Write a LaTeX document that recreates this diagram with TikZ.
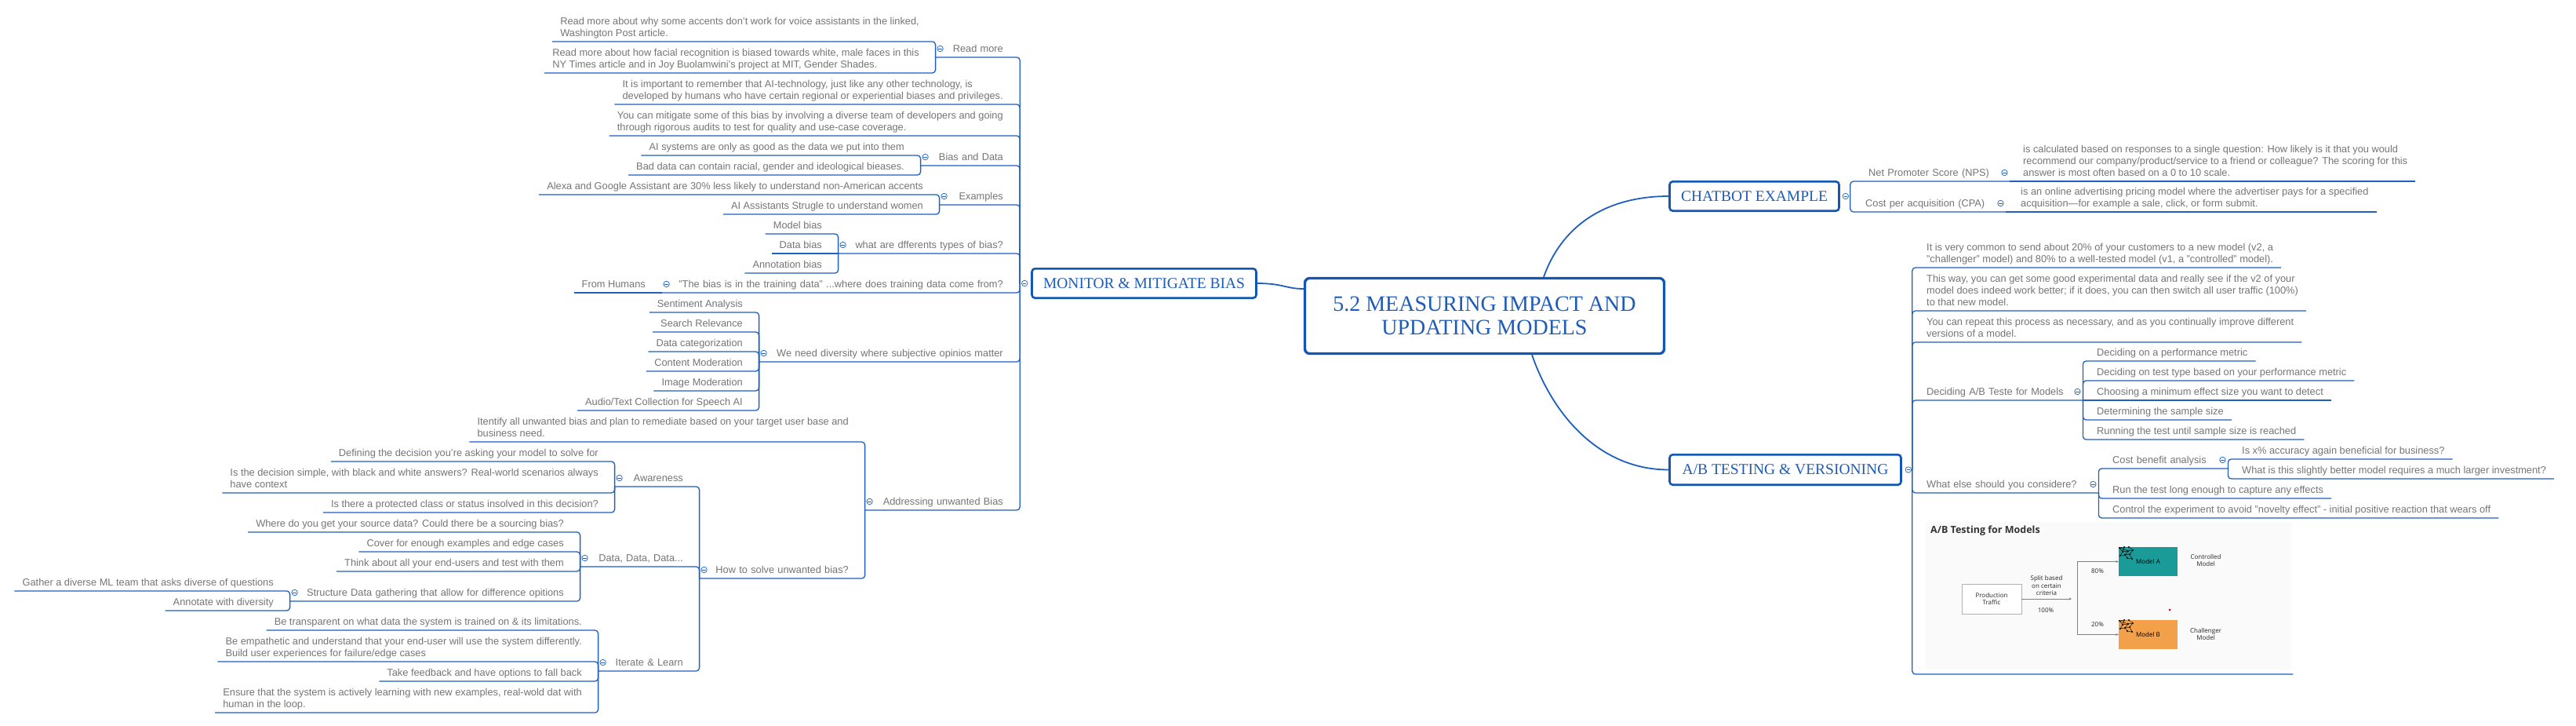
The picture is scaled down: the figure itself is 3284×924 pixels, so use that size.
\documentclass[tikz,border=0pt]{standalone}
\usepackage{fontspec}
\setmainfont{Liberation Sans}
\newfontfamily\titlefont{Liberation Serif}
\newfontfamily\imgfont{Open Sans}
\usetikzlibrary{arrows.meta}
\definecolor{linec}{HTML}{1E5FBF}
\definecolor{boxc}{HTML}{1356B4}
\definecolor{ntext}{HTML}{1F5CB8}
\definecolor{txtgray}{HTML}{757575}
\definecolor{modelA}{HTML}{1B9B97}
\definecolor{modelB}{HTML}{F3A04A}
\definecolor{imgbg}{HTML}{FAFAFA}
\tikzset{
  lt/.style={font=\fontsize{12.8}{15}\selectfont, text=txtgray, inner xsep=10pt, inner ysep=2pt, execute at end node=\strut},
  ll/.style={lt, anchor=south east},
  rl/.style={lt, anchor=south west},
  br/.style={draw=linec, line width=1.3pt, rounded corners=4pt},
  mi/.style={circle, draw=linec, line width=0.7pt, fill=white, minimum size=7.5pt, inner sep=0pt,
    path picture={\draw[linec, line width=0.7pt] ([xshift=-2.2pt]path picture bounding box.center) -- ([xshift=2.2pt]path picture bounding box.center);}},
  topic/.style={draw=boxc, line width=2.6pt, rounded corners=4pt, text=ntext, font=\titlefont\fontsize{19.5}{22}\selectfont, inner sep=0pt},
  mainc/.style={draw=linec, line width=1.8pt},
  imglbl/.style={font=\imgfont\fontsize{8}{9.5}\selectfont, text=black!85, align=center, inner sep=0pt},
  imgarrow/.style={draw=gray, line width=0.6pt, -{Stealth[length=3.5pt,width=3pt]}},
  imgline/.style={draw=gray, line width=0.6pt},
  pics/nnet/.style={code={
    \draw[black, line width=0.4pt] (1,2)--(7,1)--(13,1)--(18,5)--(12,6)--(5,7)--(1,2) (5,7)--(2,12)--(8,11)--(12,6) (8,11)--(14,10)--(18,5) (14,10)--(17,16)--(11,15)--(8,11) (1,2)--(12,6) (7,1)--(5,7);
    \foreach \p in {(1,2),(7,1),(13,1),(18,5),(12,6),(5,7),(2,12),(8,11),(14,10),(17,16),(11,15)} \fill[black] \p circle (1.1pt);
  }}
}
\begin{document}
\begin{tikzpicture}[x=1pt, y=-1pt]
\fill[white] (0,0) rectangle (3284,924);
\useasboundingbox (0,0) rectangle (3284,924);

% ---------- central and main topics ----------
\node[draw=boxc, line width=3.3pt, rounded corners=6pt, minimum width=458pt, minimum height=96pt, align=center, text=ntext, font=\titlefont\fontsize{28}{30}\selectfont, inner sep=0pt] (Ctr) at (1892.5,402.5) {5.2 MEASURING IMPACT AND\\UPDATING MODELS};
\node[topic, minimum width=286pt, minimum height=37.4pt] (M) at (1458.5,361) {MONITOR \& MITIGATE BIAS};
\node[topic, minimum width=216pt, minimum height=37.4pt] (C) at (2236.5,250) {CHATBOT EXAMPLE};
\node[topic, minimum width=295pt, minimum height=38.4pt] (AB) at (2276,598.5) {A/B TESTING \& VERSIONING};

\draw[mainc] (M.east) .. controls (1635,361) and (1640,368) .. ([yshift=34.5pt]Ctr.west);
\draw[mainc] ([xshift=75.5pt]Ctr.north) .. controls (1992,285) and (2050,250) .. (C.west);
\draw[mainc] ([xshift=60.5pt]Ctr.south) .. controls (1980,530) and (2040,598.5) .. (AB.west);

\coordinate (Mb) at ([xshift=-14pt]M.west);
\coordinate (Cb) at ([xshift=13pt]C.east);
\coordinate (ABb) at ([xshift=13pt]AB.east);

% ---------- MONITOR branch ----------
\node[ll, text width=76pt, align=right] (rm) at (1289,73) {Read more};
\node[ll, align=left] (rm1) at (1182,53) {Read more about why some accents don't work for voice assistants in the linked,\\Washington Post article.};
\node[ll, align=left] (rm2) at (1182,93) {Read more about how facial recognition is biased towards white, male faces in this\\NY Times article and in Joy Buolamwini's project at MIT, Gender Shades.};
\node[ll, align=left] (imp) at (1289,133) {It is important to remember that AI-technology, just like any other technology, is\\developed by humans who have certain regional or experiential biases and privileges.};
\node[ll, align=left] (mit) at (1289,173) {You can mitigate some of this bias by involving a diverse team of developers and going\\through rigorous audits to test for quality and use-case coverage.};
\node[ll, text width=95pt, align=right] (bd) at (1289,211) {Bias and Data};
\node[ll] (bd1) at (1163,198) {AI systems are only as good as the data we put into them};
\node[ll] (bd2) at (1163,223) {Bad data can contain racial, gender and ideological bieases.};
\node[ll, text width=71pt, align=right] (exm) at (1289,261) {Examples};
\node[ll] (ex1) at (1187,248) {Alexa and Google Assistant are 30\% less likely to understand non-American accents};
\node[ll] (ex2) at (1187,273) {AI Assistants Strugle to understand women};
\node[ll, text width=200pt, align=right] (typ) at (1289,323) {what are dfferents types of bias?};
\node[ll] (ty1) at (1058,298) {Model bias};
\node[ll] (ty2) at (1058,323) {Data bias};
\node[ll] (ty3) at (1058,348) {Annotation bias};
\node[ll, text width=425pt, align=right] (trn) at (1289,373) {"The bias is in the training data" ...where does training data come from?};
\node[ll] (fh) at (833,373) {From Humans};
\node[ll, text width=301pt, align=right] (div) at (1289,461) {We need diversity where subjective opinios matter};
\node[ll] (dv1) at (957,398) {Sentiment Analysis};
\node[ll] (dv2) at (957,423) {Search Relevance};
\node[ll] (dv3) at (957,448) {Data categorization};
\node[ll] (dv4) at (957,473) {Content Moderation};
\node[ll] (dv5) at (957,498) {Image Moderation};
\node[ll] (dv6) at (957,523) {Audio/Text Collection for Speech AI};
\node[ll, text width=166pt, align=right] (adr) at (1289,650) {Addressing unwanted Bias};
\node[ll, align=left] (idt) at (1092,563) {Itentify all unwanted bias and plan to remediate based on your target user base and\\business need.};
\node[ll, text width=180pt, align=right] (how) at (1092,737) {How to solve unwanted bias?};
\node[ll, text width=77pt, align=right] (awa) at (881,620) {Awareness};
\node[ll] (aw1) at (773,588) {Defining the decision you're asking your model to solve for};
\node[ll, align=left] (aw2) at (773,628) {Is the decision simple, with black and white answers? Real-world scenarios always\\have context};
\node[ll] (aw3) at (773,653) {Is there a protected class or status insolved in this decision?};
\node[ll, text width=121pt, align=right] (dat) at (881,722) {Data, Data, Data...};
\node[ll] (dd1) at (729,678) {Where do you get your source data? Could there be a sourcing bias?};
\node[ll] (dd2) at (729,703) {Cover for enough examples and edge cases};
\node[ll] (dd3) at (729,728) {Think about all your end-users and test with them};
\node[ll, text width=339pt, align=right] (str) at (729,766) {Structure Data gathering that allow for difference opitions};
\node[ll] (st1) at (359,753) {Gather a diverse ML team that asks diverse of questions};
\node[ll] (st2) at (359,778) {Annotate with diversity};
\node[ll, text width=98pt, align=right] (itl) at (881,855) {Iterate \& Learn};
\node[ll] (it1) at (752,803) {Be transparent on what data the system is trained on \& its limitations.};
\node[ll, align=left] (it2) at (752,843) {Be empathetic and understand that your end-user will use the system differently.\\Build user experiences for failure/edge cases};
\node[ll] (it3) at (752,868) {Take feedback and have options to fall back};
\node[ll, align=left] (it4) at (752,908) {Ensure that the system is actively learning with new examples, real-wold dat with\\human in the loop.};

\foreach \c in {rm,imp,mit,bd,exm,typ,trn,div,adr} \draw[br] (Mb) |- (\c.south west);
\foreach \c in {rm1,rm2} \draw[br] (rm.south west) |- (\c.south west);
\foreach \c in {bd1,bd2} \draw[br] (bd.south west) |- (\c.south west);
\foreach \c in {ex1,ex2} \draw[br] (exm.south west) |- (\c.south west);
\foreach \c in {ty1,ty3} \draw[br] (typ.south west) |- (\c.south west);
\draw[br] (typ.south west) -- (ty2.south west);
\draw[br] (trn.south west) -- (fh.south west);
\foreach \c in {dv1,dv2,dv3,dv4,dv5,dv6} \draw[br] (div.south west) |- (\c.south west);
\foreach \c in {idt,how} \draw[br] (adr.south west) |- (\c.south west);
\foreach \c in {awa,dat,itl} \draw[br] (how.south west) |- (\c.south west);
\foreach \c in {aw1,aw2,aw3} \draw[br] (awa.south west) |- (\c.south west);
\foreach \c in {dd1,dd2,dd3,str} \draw[br] (dat.south west) |- (\c.south west);
\foreach \c in {st1,st2} \draw[br] (str.south west) |- (\c.south west);
\foreach \c in {it1,it2,it3,it4} \draw[br] (itl.south west) |- (\c.south west);

\node[mi] (iM) at ([xshift=-8pt]M.west) {};
\foreach \c in {rm,bd,exm,typ,trn,div,adr,how,awa,dat,str,itl} \node[mi] (i\c) at ([shift={(6,-11)}]\c.south west) {};

% ---------- CHATBOT branch ----------
\node[rl, text width=170pt, align=left] (nps) at (2372,231) {Net Promoter Score (NPS)};
\node[rl, align=left] (npsd) at (2569,231) {is calculated based on responses to a single question: How likely is it that you would\\recommend our company/product/service to a friend or colleague? The scoring for this\\answer is most often based on a 0 to 10 scale.};
\node[rl, text width=169pt, align=left] (cpa) at (2368,270) {Cost per acquisition (CPA)};
\node[rl, align=left] (cpad) at (2566,270) {is an online advertising pricing model where the advertiser pays for a specified\\acquisition—for example a sale, click, or form submit.};
\foreach \c in {nps,cpa} \draw[br] (Cb) |- (\c.south east);
\draw[br] (nps.south east) -- (npsd.south east);
\draw[br] (cpa.south east) -- (cpad.south east);
\node[mi] (iC) at ([xshift=7pt]C.east) {};
\foreach \c in {nps,cpa} \node[mi] (i\c) at ([shift={(-7,-11)}]\c.south east) {};

% ---------- A/B branch ----------
\node[rl, align=left] (ab1) at (2446,341) {It is very common to send about 20\% of your customers to a new model (v2, a\\"challenger" model) and 80\% to a well-tested model (v1, a "controlled" model).};
\node[rl, align=left] (ab2) at (2446,396) {This way, you can get some good experimental data and really see if the v2 of your\\model does indeed work better; if it does, you can then switch all user traffic (100\%)\\to that new model.};
\node[rl, align=left] (ab3) at (2446,436) {You can repeat this process as necessary, and as you continually improve different\\versions of a model.};
\node[rl, text width=189pt, align=left] (dec) at (2446,510) {Deciding A/B Teste for Models};
\node[rl] (d1) at (2663,460) {Deciding on a performance metric};
\node[rl] (d2) at (2663,485) {Deciding on test type based on your performance metric};
\node[rl] (d3) at (2663,510) {Choosing a minimum effect size you want to detect};
\node[rl] (d4) at (2663,535) {Determining the sample size};
\node[rl] (d5) at (2663,560) {Running the test until sample size is reached};
\node[rl, text width=209pt, align=left] (wel) at (2446,628) {What else should you considere?};
\node[rl, text width=137pt, align=left] (cst) at (2683,597) {Cost benefit analysis};
\node[rl] (c1) at (2848,585) {Is x\% accuracy again beneficial for business?};
\node[rl] (c2) at (2848,610) {What is this slightly better model requires a much larger investment?};
\node[rl] (w2) at (2683,635) {Run the test long enough to capture any effects};
\node[rl] (w3) at (2683,660) {Control the experiment to avoid "novelty effect" - initial positive reaction that wears off};
\node[anchor=south west, minimum width=477pt, minimum height=194pt, inner sep=0pt] (abimg) at (2446,859) {};

\foreach \c in {ab1,ab2,ab3,dec,wel,abimg} \draw[br] (ABb) |- (\c.south east);
\foreach \c in {d1,d2,d4,d5} \draw[br] (dec.south east) |- (\c.south east);
\draw[br] (dec.south east) -- (d3.south east);
\foreach \c in {cst,w2,w3} \draw[br] (wel.south east) |- (\c.south east);
\foreach \c in {c1,c2} \draw[br] (cst.south east) |- (\c.south east);
\node[mi] (iAB) at ([xshift=8pt]AB.east) {};
\foreach \c in {dec,wel,cst} \node[mi] (i\c) at ([shift={(-7,-11)}]\c.south east) {};

% ---------- A/B image ----------
\fill[imgbg] ([shift={(9,0)}]abimg.north west) rectangle ([shift={(-2,-6)}]abimg.south east);
\node[anchor=west, font=\imgfont\bfseries\fontsize{12.5}{14}\selectfont, text=black!80, inner sep=0pt] (imgt) at (2461,676) {A/B Testing for Models};
\node[draw=gray!60, fill=white, minimum width=76pt, minimum height=38pt, imglbl] (prod) at (2539,763) {Production\\Traffic};
\coordinate (sp) at (2641,763);
\draw[imgarrow] (prod.east) -- (sp);
\node[imglbl] (splt) at (2609,746) {Split based\\on certain\\criteria};
\node[imglbl] (p100) at (2608,778) {100\%};
\node[fill=modelA, minimum width=75pt, minimum height=37pt, imglbl, text=black] (ma) at (2738.5,715.5) {Model A};
\node[fill=modelB, minimum width=75pt, minimum height=37pt, imglbl, text=black] (mb) at (2738.5,808.5) {Model B};
\pic at (2701,696) {nnet};
\pic at (2701,789) {nnet};
\coordinate (sa) at (2648,715.5);
\coordinate (sb) at (2648,808.5);
\draw[imgline] (sa) -- (sb);
\draw[imgarrow] (sa) -- (ma.west);
\draw[imgarrow] (sb) -- (mb.west);
\node[imglbl] (p80) at (2674,728) {80\%};
\node[imglbl] (p20) at (2674,796) {20\%};
\node[imglbl] (ctl) at (2812,714) {Controlled\\Model};
\node[imglbl] (chl) at (2812,808) {Challenger\\Model};
\fill[red!85!black] (2766,777) circle (1.5pt);
\end{tikzpicture}
\end{document}
